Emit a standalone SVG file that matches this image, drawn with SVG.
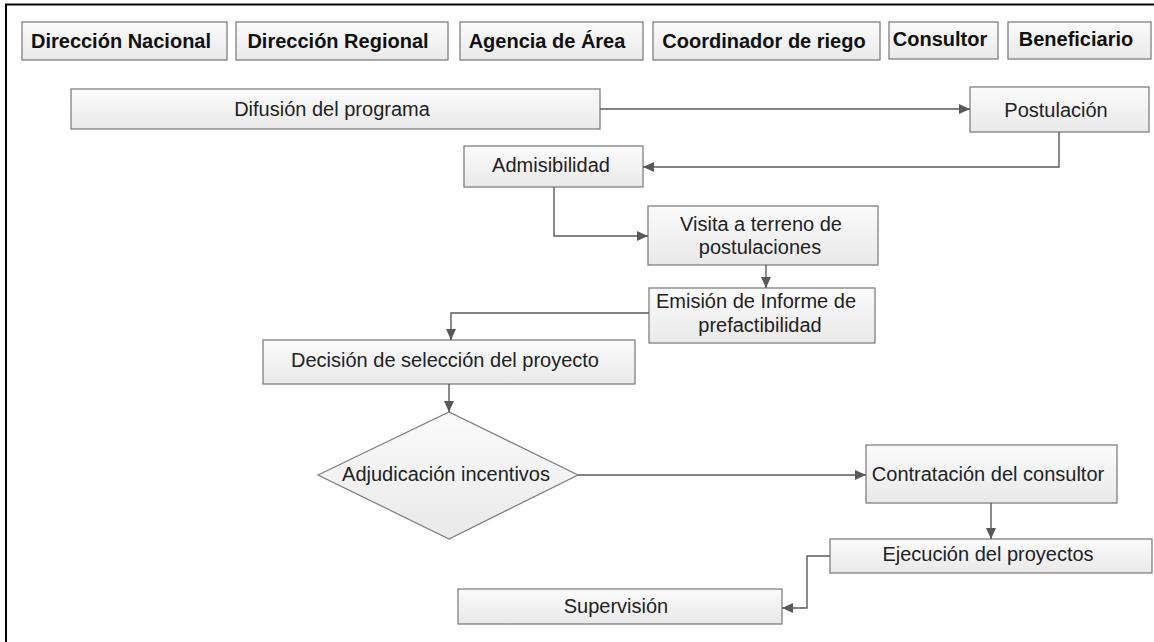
<svg xmlns="http://www.w3.org/2000/svg" width="1154" height="642" viewBox="0 0 1154 642">
<defs>
<linearGradient id="g" x1="0" y1="0" x2="0" y2="1">
<stop offset="0" stop-color="#fbfbfb"/>
<stop offset="1" stop-color="#e9e9e9"/>
</linearGradient>
<marker id="ah" markerUnits="userSpaceOnUse" markerWidth="12" markerHeight="10" refX="11" refY="5" orient="auto">
<path d="M0,0 L11,5 L0,10 z" fill="#595959"/>
</marker>
<style>
.box{fill:url(#g);stroke:#808080;stroke-width:1.3}
.hd{font-family:"Liberation Sans",Arial,sans-serif;font-weight:bold;font-size:20px;fill:#111;text-anchor:middle}
.tx{font-family:"Liberation Sans",Arial,sans-serif;font-size:20px;fill:#222;text-anchor:middle}
.cn{fill:none;stroke:#595959;stroke-width:1.4;marker-end:url(#ah)}
</style>
</defs>
<rect width="1154" height="642" fill="#fff"/>
<path d="M6,642 V4.5 H1154" fill="none" stroke="#000" stroke-width="2"/>
<g id="h1"><rect class="box" x="22" y="22" width="205" height="38"/><text class="hd" x="121" y="48">Dirección Nacional</text></g>
<g id="h2"><rect class="box" x="236" y="22" width="212" height="38"/><text class="hd" x="338" y="48">Dirección Regional</text></g>
<g id="h3"><rect class="box" x="460" y="22" width="183" height="38"/><text class="hd" x="547" y="48">Agencia de Área</text></g>
<g id="h4"><rect class="box" x="653" y="22" width="227" height="38"/><text class="hd" x="764" y="48">Coordinador de riego</text></g>
<g id="h5"><rect class="box" x="889" y="22" width="109" height="37"/><text class="hd" x="940" y="46">Consultor</text></g>
<g id="h6"><rect class="box" x="1008" y="22" width="143" height="37"/><text class="hd" x="1076" y="46">Beneficiario</text></g>
<g id="difusion"><rect class="box" x="71" y="89" width="529" height="40"/><text class="tx" x="332" y="116">Difusión del programa</text></g>
<g id="postulacion"><rect class="box" x="970" y="87" width="179" height="45"/><text class="tx" x="1056" y="117">Postulación</text></g>
<g id="admisibilidad"><rect class="box" x="464" y="146" width="179" height="41"/><text class="tx" x="551" y="172">Admisibilidad</text></g>
<g id="visita"><rect class="box" x="648" y="206" width="230" height="59"/><text class="tx" x="761" y="231">Visita a terreno de</text><text class="tx" x="760" y="254">postulaciones</text></g>
<g id="emision"><rect class="box" x="649" y="288" width="226" height="55"/><text class="tx" x="756" y="308">Emisión de Informe de</text><text class="tx" x="760" y="332">prefactibilidad</text></g>
<g id="decision"><rect class="box" x="263" y="340" width="372" height="44"/><text class="tx" x="445" y="367">Decisión de selección del proyecto</text></g>
<g id="adjudicacion"><polygon class="box" points="318,475 449,412 578,475 449,539"/><text class="tx" x="446" y="481">Adjudicación incentivos</text></g>
<g id="contratacion"><rect class="box" x="866" y="445" width="251" height="58"/><text class="tx" x="988" y="481">Contratación del consultor</text></g>
<g id="ejecucion"><rect class="box" x="830" y="539" width="322" height="34"/><text class="tx" x="988" y="561">Ejecución del proyectos</text></g>
<g id="supervision"><rect class="box" x="458" y="589" width="324" height="35"/><text class="tx" x="616" y="613">Supervisión</text></g>
<g id="connectors">
<path class="cn" d="M600,109 H970"/>
<path class="cn" d="M1059,132 V167 H643"/>
<path class="cn" d="M554,187 V236 H648"/>
<path class="cn" d="M766,265 V288"/>
<path class="cn" d="M649,313 H451 V340"/>
<path class="cn" d="M449,384 V412"/>
<path class="cn" d="M578,475 H866"/>
<path class="cn" d="M991,503 V539"/>
<path class="cn" d="M830,556 H807 V608 H782"/>
</g>
</svg>
